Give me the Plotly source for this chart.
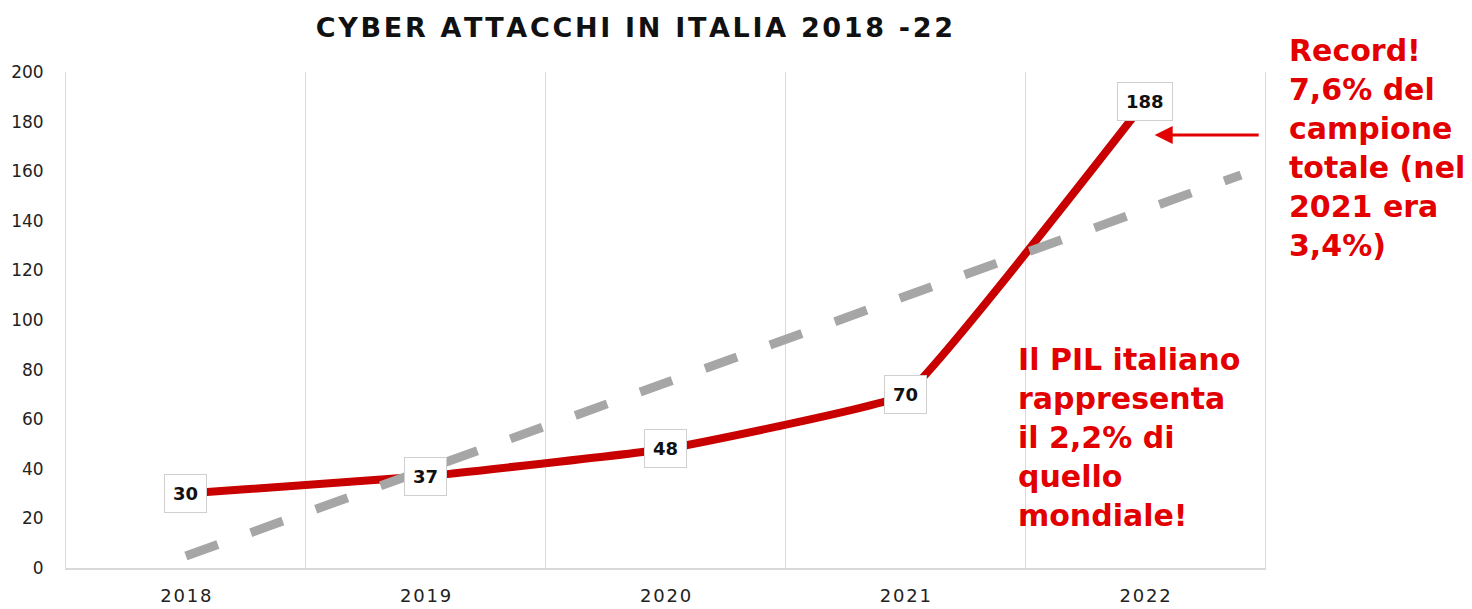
import plotly.graph_objects as go

# Cyber attacks in Italy, 2018-2022
years = ["2018", "2019", "2020", "2021", "2022"]
attacks = [30, 37, 48, 70, 188]

# Linear trend (read at its two ends, extended past 2022)
trend_x = [0.0, 4.4]
trend_y = [4.8, 158.5]

y_ticks = [0, 20, 40, 60, 80, 100, 120, 140, 160, 180, 200]

RED = "#C80000"
TEXT_RED = "#E20000"
GRAY = "#A6A6A6"
GRID = "#D9D9D9"

HAIR = "\u200a"


def tracked(s):
    """Loosen letter spacing by putting a hair space between characters."""
    return HAIR.join(s)


xpos = list(range(len(years)))

fig = go.Figure()

fig.add_trace(go.Scatter(
    x=xpos, y=attacks, mode="lines",
    line=dict(color=RED, width=8, shape="spline", smoothing=0.25),
    hoverinfo="skip", showlegend=False,
))

fig.add_trace(go.Scatter(
    x=trend_x, y=trend_y, mode="lines",
    line=dict(color=GRAY, width=9, dash="34px,35px"),
    hoverinfo="skip", showlegend=False,
))

# value labels in boxes
for xi, v in zip(xpos, attacks):
    fig.add_annotation(
        x=xi, y=v, xref="x", yref="y", text=str(v), showarrow=False,
        font=dict(family="DejaVu Sans", size=18, color="#111111", weight="bold"),
        bgcolor="white", bordercolor="#CFCFCF", borderwidth=1, borderpad=8,
    )

# arrow pointing at the 2022 peak
fig.add_annotation(
    x=4.04, y=174.6, ax=4.48, ay=174.6, xref="x", yref="y", axref="x", ayref="y",
    text="", showarrow=True, arrowhead=2, arrowsize=1.2, arrowwidth=3,
    arrowcolor=TEXT_RED,
)

fig.add_annotation(
    x=1.0185, y=1.083, xref="paper", yref="paper", xanchor="left", yanchor="top",
    align="left", showarrow=False,
    text="Record!<br>7,6% del<br>campione<br>totale (nel<br>2021 era<br>3,4%)",
    font=dict(family="DejaVu Sans", size=30, color=TEXT_RED, weight="bold"),
)

fig.add_annotation(
    x=3.46, y=92, xref="x", yref="y", xanchor="left", yanchor="top",
    align="left", showarrow=False,
    text="Il PIL italiano<br>rappresenta<br>il 2,2% di<br>quello<br>mondiale!",
    font=dict(family="DejaVu Sans", size=30, color=TEXT_RED, weight="bold"),
)

fig.update_layout(
    width=1472, height=609,
    margin=dict(l=66, r=207, t=72, b=41),
    paper_bgcolor="white", plot_bgcolor="white",
    title=dict(
        text=tracked("CYBER ATTACCHI IN ITALIA 2018 -22"),
        x=0.431, xanchor="center", xref="container",
        y=1 - 28 / 609, yanchor="middle", yref="container",
        font=dict(family="DejaVu Sans", size=27, color="#111111", weight="bold"),
    ),
    xaxis=dict(
        range=[-0.5, 4.5], tickmode="array", tickvals=xpos,
        ticktext=[tracked(y) for y in years],
        showgrid=False, zeroline=False, automargin=False,
        showline=True, linecolor=GRID, linewidth=2,
        ticks="", ticklabelstandoff=10,
        tickfont=dict(family="DejaVu Sans", size=18, color="#222222"),
        minor=dict(tickmode="array", tickvals=[0.5, 1.5, 2.5, 3.5],
                   showgrid=True, gridcolor=GRID, gridwidth=1, ticks=""),
        fixedrange=True,
    ),
    yaxis=dict(
        range=[0, 200], tickmode="array", tickvals=y_ticks,
        showgrid=False, zeroline=False, automargin=False,
        showline=True, mirror=True, linecolor=GRID, linewidth=1,
        ticks="", ticklabelstandoff=18,
        tickfont=dict(family="DejaVu Sans", size=17, color="#222222"),
        fixedrange=True,
    ),
)

fig.write_html("out.html")
